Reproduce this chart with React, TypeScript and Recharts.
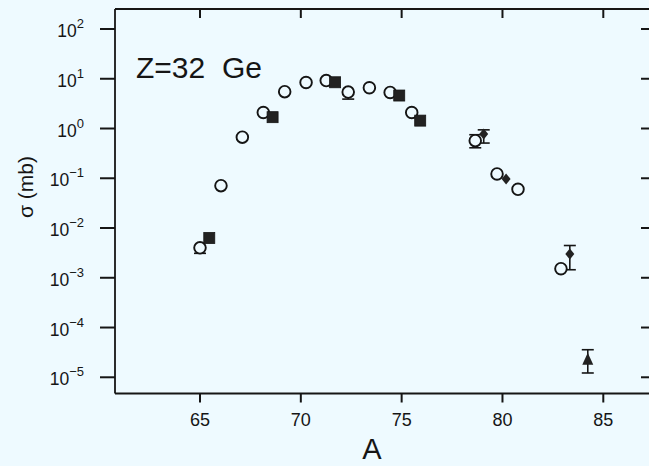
import {
  ErrorBar,
  Scatter,
  ScatterChart,
  XAxis,
  YAxis,
} from 'recharts';

// mass number A and cross section sigma (mb)
const circleA = [65.0, 66.04, 67.1, 68.14, 69.2, 70.26, 71.26, 72.35, 73.4, 74.43, 75.5, 78.65, 79.73, 80.77, 82.9];
const circleS = [4.0e-3, 0.071, 0.67, 2.1, 5.5, 8.4, 9.2, 5.4, 6.6, 5.3, 2.1, 0.57, 0.122, 0.06, 1.52e-3];
const circleLo = [3.1e-3, null, null, null, null, null, null, 3.9, null, null, null, 0.41, null, null, null];
const circleHi = [4.0e-3, null, null, null, null, null, null, 5.4, null, null, null, 0.75, null, null, null];

const squareA = [65.46, 68.6, 71.7, 74.88, 75.92];
const squareS = [6.3e-3, 1.69, 8.5, 4.6, 1.44];

const diamondA = [79.07, 80.18, 83.34];
const diamondS = [0.78, 0.097, 3.0e-3];
const diamondLo = [0.51, null, 1.45e-3];
const diamondHi = [0.94, null, 4.45e-3];

const triangleA = [84.23];
const triangleS = [2.25e-5];
const triangleLo = [1.22e-5];
const triangleHi = [3.58e-5];

const xTicks = [65, 70, 75, 80, 85];
const yTicks = [1e-5, 1e-4, 1e-3, 1e-2, 1e-1, 1e0, 1e1, 1e2];
const yExp = ['−5', '−4', '−3', '−2', '−1', '0', '1', '2'];

const BG = '#eefaff';
const INK = '#151515';
const FONT = '"Liberation Sans", Arial, sans-serif';

const toRows = (
  xs: number[],
  ys: number[],
  lo?: (number | null)[],
  hi?: (number | null)[],
) =>
  xs.map((a, i) => {
    const l = lo ? lo[i] : null;
    const h = hi ? hi[i] : null;
    const err = l != null && h != null ? [ys[i] - l, h - ys[i]] : undefined;
    return { a, s: ys[i], err };
  });

const circles = toRows(circleA, circleS, circleLo, circleHi);
const squares = toRows(squareA, squareS);
const diamonds = toRows(diamondA, diamondS, diamondLo, diamondHi);
const triangles = toRows(triangleA, triangleS, triangleLo, triangleHi);

const OpenCircle = (p: any) => (
  <circle cx={p.cx} cy={p.cy} r={5.8} fill={BG} stroke={INK} strokeWidth={1.9} />
);
const FilledSquare = (p: any) => (
  <rect x={p.cx - 5.5} y={p.cy - 5.5} width={11} height={11} fill="#222" stroke={INK} strokeWidth={0.8} />
);
const Diamond = (p: any) => (
  <path d={`M${p.cx},${p.cy - 5.5}L${p.cx + 4.5},${p.cy}L${p.cx},${p.cy + 5.5}L${p.cx - 4.5},${p.cy}Z`} fill="#222" />
);
const Triangle = (p: any) => (
  <path d={`M${p.cx},${p.cy - 7}L${p.cx + 5.5},${p.cy + 5}L${p.cx - 5.5},${p.cy + 5}Z`} fill="#222" />
);

// tick marks are drawn inside the tick renderers
const XTick = (p: any) => (
  <g>
    <path d={`M${p.x},393.5V402.5`} stroke={INK} strokeWidth={2} fill="none" />
    <text x={p.x} y={426} textAnchor="middle" fontSize={18} fill={INK} fontFamily={FONT}>
      {p.payload.value}
    </text>
  </g>
);

const YTick = (p: any) => {
  const i = yTicks.indexOf(p.payload.value);
  return (
    <g>
      <path d={`M100,${p.y}H115`} stroke={INK} strokeWidth={2} fill="none" />
      <text x={84} y={p.y + 8} textAnchor="end" fontSize={17.5} fill={INK} fontFamily={FONT}>
        10
        <tspan dy={-9} fontSize={13}>
          {yExp[i]}
        </tspan>
      </text>
    </g>
  );
};

const TopTick = (p: any) => (
  <path d={`M${p.x},9V18`} stroke={INK} strokeWidth={2} fill="none" />
);
const RightTick = (p: any) => (
  <path d={`M641,${p.y}H650`} stroke={INK} strokeWidth={2} fill="none" />
);

export default function App() {
  return (
    <div style={{ position: 'absolute', left: 0, top: 0, width: 649, height: 466, overflow: 'hidden', background: BG }}>
      <ScatterChart width={660} height={466} margin={{ top: 8, right: 9, bottom: 0, left: 0 }}>
        <XAxis
          xAxisId="b"
          type="number"
          dataKey="a"
          domain={[60.785, 87.316]}
          ticks={xTicks}
          allowDataOverflow
          height={72.5}
          tickLine={false}
          tick={<XTick />}
          axisLine={{ stroke: INK, strokeWidth: 1.8 }}
        />
        <XAxis
          xAxisId="t"
          orientation="top"
          type="number"
          dataKey="a"
          domain={[60.785, 87.316]}
          ticks={xTicks}
          allowDataOverflow
          height={1}
          tickLine={false}
          tick={<TopTick />}
          axisLine={{ stroke: INK, strokeWidth: 1.8 }}
        />
        <YAxis
          yAxisId="l"
          type="number"
          dataKey="s"
          scale="log"
          domain={[Math.pow(10, -5.326), Math.pow(10, 2.402)]}
          ticks={yTicks}
          allowDataOverflow
          width={115}
          tickLine={false}
          tick={<YTick />}
          axisLine={{ stroke: INK, strokeWidth: 1.8 }}
        />
        <YAxis
          yAxisId="r"
          orientation="right"
          type="number"
          dataKey="s"
          scale="log"
          domain={[Math.pow(10, -5.326), Math.pow(10, 2.402)]}
          ticks={yTicks}
          allowDataOverflow
          width={1}
          tickLine={false}
          tick={<RightTick />}
          axisLine={false}
        />
        <Scatter data={circles} xAxisId="b" yAxisId="l" shape={<OpenCircle />} isAnimationActive={false}>
          <ErrorBar dataKey="err" direction="y" width={6} stroke={INK} strokeWidth={1.6} />
        </Scatter>
        <Scatter data={squares} xAxisId="b" yAxisId="l" shape={<FilledSquare />} isAnimationActive={false} />
        <Scatter data={diamonds} xAxisId="b" yAxisId="l" shape={<Diamond />} isAnimationActive={false}>
          <ErrorBar dataKey="err" direction="y" width={6} stroke={INK} strokeWidth={1.6} />
        </Scatter>
        <Scatter data={triangles} xAxisId="b" yAxisId="l" shape={<Triangle />} isAnimationActive={false}>
          <ErrorBar dataKey="err" direction="y" width={6} stroke={INK} strokeWidth={1.6} />
        </Scatter>
        <text x={136} y={78} fontSize={30} fill={INK} fontFamily={FONT}>
          Z=32
        </text>
        <text x={222} y={78} fontSize={30} fill={INK} fontFamily={FONT}>
          Ge
        </text>
        <text x={372} y={459} textAnchor="middle" fontSize={29} fill={INK} fontFamily={FONT}>
          A
        </text>
        <text
          x={0}
          y={0}
          transform="translate(33,187) rotate(-90)"
          textAnchor="middle"
          fontSize={21}
          fill={INK}
          fontFamily={FONT}
        >
          σ (mb)
        </text>
      </ScatterChart>
    </div>
  );
}
